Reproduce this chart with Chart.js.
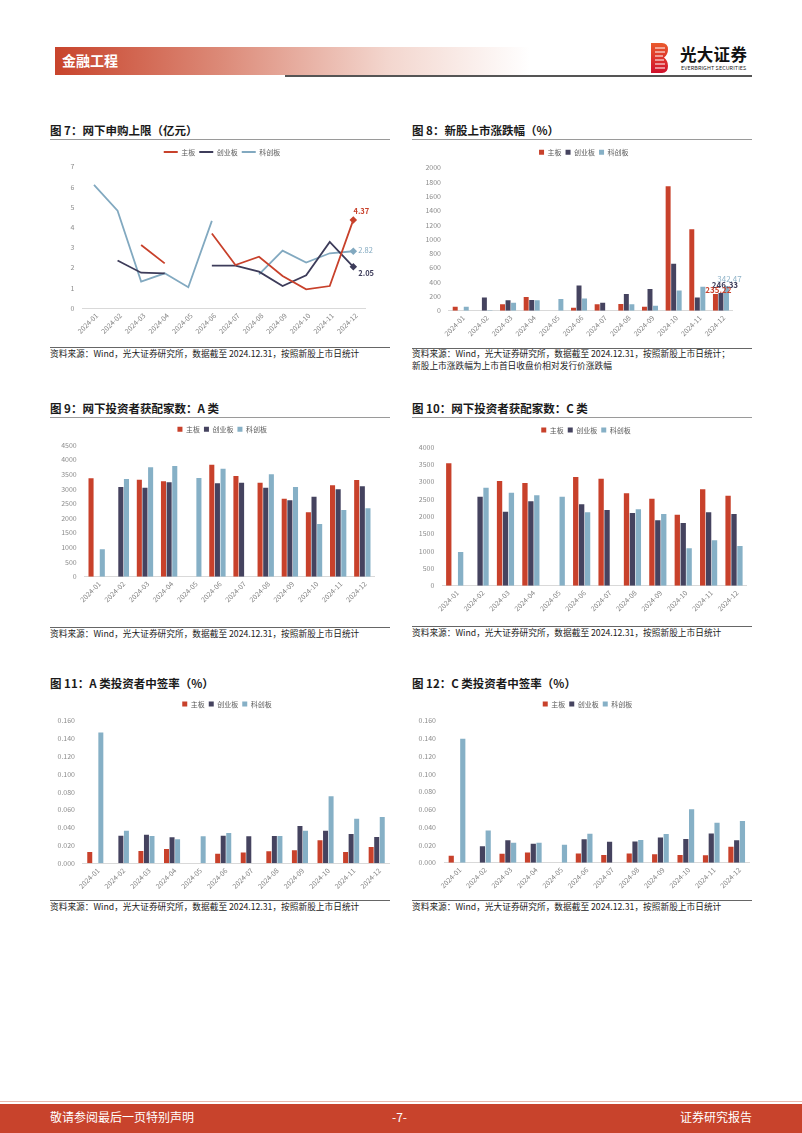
<!DOCTYPE html>
<html><head><meta charset="utf-8">
<script src="https://cdn.jsdelivr.net/npm/chart.js@4.4.0/dist/chart.umd.min.js"></script>
<style>
body{margin:0;width:802px;height:1133px;position:relative;background:#fff;font-family:"Noto Sans CJK SC","Noto Sans",sans-serif;overflow:hidden}
.abs{position:absolute}
.title{position:absolute;font-size:11.5px;font-weight:bold;color:#1a1a1a;white-space:nowrap;line-height:14px}
.src{position:absolute;font-size:8.7px;color:#222;white-space:nowrap;line-height:12px}
.hr{position:absolute;height:0}
canvas{position:absolute;display:block}
</style></head><body>

<!-- header -->
<div class="abs" style="left:55px;top:47px;width:475px;height:28px;background:linear-gradient(to right,#c8442c 0%,#dc8a78 35%,#f3d6ce 70%,#ffffff 100%)"></div>
<div class="abs" style="left:62px;top:51px;font-size:14px;font-weight:bold;color:#fff;line-height:18px">金融工程</div>
<div class="abs" style="left:285px;top:75px;width:467px;height:2px;background:#555"></div>
<svg class="abs" style="left:651px;top:43px" width="18" height="30" viewBox="0 0 18 30">
<defs><linearGradient id="lg" x1="0" y1="0" x2="0" y2="1"><stop offset="0" stop-color="#ea5a2c"/><stop offset="1" stop-color="#d0102c"/></linearGradient></defs>
<path d="M0 0 H11 Q17 0 17 6.5 Q17 11.5 13 14.5 Q17 17.5 17 23 Q17 30 11 30 H0 Z" fill="url(#lg)"/>
<g stroke="#fff" stroke-width="1"><line x1="4" y1="5" x2="14" y2="5"/><line x1="4" y1="9" x2="14" y2="9"/><line x1="4" y1="13" x2="12" y2="13"/><line x1="4" y1="17" x2="13" y2="17"/><line x1="4" y1="21" x2="14" y2="21"/><line x1="4" y1="25" x2="14" y2="25"/></g>
</svg>
<div class="abs" style="left:680px;top:44px;font-size:16.5px;font-weight:bold;color:#111;line-height:20px;letter-spacing:0.3px">光大证券</div>
<div class="abs" style="left:681px;top:65px;font-size:5.4px;color:#222;line-height:7px;letter-spacing:0.1px">EVERBRIGHT SECURITIES</div>

<!-- titles -->
<div class="title" style="left:50px;top:123px">图 7：网下申购上限（亿元）</div>
<div class="title" style="left:412px;top:123px">图 8：新股上市涨跌幅（%）</div>
<div class="hr" style="left:50px;top:139px;width:340px;border-top:1.5px solid #9a9a9a"></div>
<div class="hr" style="left:412px;top:139px;width:340px;border-top:1.5px solid #9a9a9a"></div>

<div class="title" style="left:50px;top:401px">图 9：网下投资者获配家数：A 类</div>
<div class="title" style="left:412px;top:401px">图 10：网下投资者获配家数：C 类</div>
<div class="hr" style="left:50px;top:417px;width:340px;border-top:1.5px solid #9a9a9a"></div>
<div class="hr" style="left:412px;top:417px;width:340px;border-top:1.5px solid #9a9a9a"></div>

<div class="title" style="left:50px;top:676px">图 11：A 类投资者中签率（%）</div>
<div class="title" style="left:412px;top:676px">图 12：C 类投资者中签率（%）</div>

<!-- sources -->
<div class="hr" style="left:50px;top:347px;width:340px;border-top:1px solid #666"></div>
<div class="hr" style="left:412px;top:348px;width:340px;border-top:1px solid #666"></div>
<div class="src" style="left:50px;top:348px">资料来源：Wind，光大证券研究所，数据截至 2024.12.31，按照新股上市日统计</div>
<div class="src" style="left:412px;top:348px">资料来源：Wind，光大证券研究所，数据截至 2024.12.31，按照新股上市日统计；</div>
<div class="src" style="left:412px;top:360px">新股上市涨跌幅为上市首日收盘价相对发行价涨跌幅</div>

<div class="hr" style="left:50px;top:627px;width:340px;border-top:1px solid #666"></div>
<div class="hr" style="left:412px;top:626px;width:340px;border-top:1px solid #666"></div>
<div class="src" style="left:50px;top:628px">资料来源：Wind，光大证券研究所，数据截至 2024.12.31，按照新股上市日统计</div>
<div class="src" style="left:412px;top:627px">资料来源：Wind，光大证券研究所，数据截至 2024.12.31，按照新股上市日统计</div>

<div class="hr" style="left:50px;top:900px;width:340px;border-top:1px solid #666"></div>
<div class="hr" style="left:412px;top:900px;width:340px;border-top:1px solid #666"></div>
<div class="src" style="left:50px;top:901px">资料来源：Wind，光大证券研究所，数据截至 2024.12.31，按照新股上市日统计</div>
<div class="src" style="left:412px;top:901px">资料来源：Wind，光大证券研究所，数据截至 2024.12.31，按照新股上市日统计</div>

<!-- footer -->
<div class="abs" style="left:0;top:1101px;width:802px;height:1px;background:#e9b9ad"></div>
<div class="abs" style="left:0;top:1104px;width:802px;height:29px;background:#c8432c"></div>
<div class="abs" style="left:50px;top:1109px;font-size:12px;color:#fff;line-height:16px">敬请参阅最后一页特别声明</div>
<div class="abs" style="left:392px;top:1109px;font-size:12px;color:#fff;line-height:16px">-7-</div>
<div class="abs" style="left:680px;top:1109px;font-size:12px;color:#fff;line-height:16px">证券研究报告</div>

<script>
// ---------- data ----------
const months = ['2024-01','2024-02','2024-03','2024-04','2024-05','2024-06','2024-07','2024-08','2024-09','2024-10','2024-11','2024-12'];
const seriesNames = ['主板','创业板','科创板'];

// 图7 网下申购上限（亿元）
const limitMain    = [null,null,3.13,2.22,null,3.70,2.14,2.55,1.60,0.94,1.10,4.37];
const limitChiNext = [null,2.36,1.76,1.73,null,2.11,2.11,1.81,1.10,1.63,3.28,2.05];
const limitStar    = [6.10,4.83,1.32,1.73,1.04,4.32,null,1.68,2.85,2.26,2.72,2.82];
const limitTicks   = [0,1,2,3,4,5,6,7];

// 图8 新股上市涨跌幅（%）
const riseMain    = [56,null,89,191,null,42,89,93,56,1739,1138,235.22];
const riseChiNext = [null,186,145,149,null,354,112,233,303,657,186,246.33];
const riseStar    = [56,8,112,145,163,172,null,89,70,284,336,342.47];
const riseTicks   = [0,200,400,600,800,1000,1200,1400,1600,1800,2000];

// 图9 网下投资者获配家数：A类
const allocAMain    = [3361,null,3315,3258,null,3828,3440,3213,2666,2199,3122,3304];
const allocAChiNext = [null,3065,3042,3224,null,3190,3213,3042,2609,2734,2985,3087];
const allocAStar    = [934,3338,3737,3782,3372,3691,null,3497,3065,1800,2278,2335];
const allocATicks   = [0,500,1000,1500,2000,2500,3000,3500,4000,4500];

// 图10 网下投资者获配家数：C类
const allocCMain    = [3529,null,3019,2962,null,3135,3087,2663,2510,2048,2779,2596];
const allocCChiNext = [null,2567,2135,2433,null,2346,2183,2096,1885,1808,2115,2067];
const allocCStar    = [971,2827,2683,2606,2567,2115,null,2202,2067,1077,1308,1144];
const allocCTicks   = [0,500,1000,1500,2000,2500,3000,3500,4000];

// 图11 A类投资者中签率（%）
const rateAMain    = [0.0127,null,0.0138,0.0161,null,0.0108,0.0120,0.0135,0.0146,0.0258,0.0127,0.0183];
const rateAChiNext = [null,0.0310,0.0321,0.0292,null,0.0310,0.0303,0.0307,0.0419,0.0366,0.0329,0.0295];
const rateAStar    = [0.1469,0.0366,0.0307,0.0269,0.0303,0.0340,null,0.0307,0.0366,0.0751,0.0501,0.0520];

// 图12 C类投资者中签率（%）
const rateCMain    = [0.0079,null,0.0101,0.0116,null,0.0105,0.0086,0.0105,0.0094,0.0086,0.0083,0.0180];
const rateCChiNext = [null,0.0184,0.0252,0.0214,null,0.0263,0.0237,0.0240,0.0285,0.0267,0.0330,0.0252];
const rateCStar    = [0.1397,0.0364,0.0225,0.0225,0.0203,0.0327,null,0.0255,0.0323,0.0601,0.0451,0.0469];
const rateTicks    = [0,0.02,0.04,0.06,0.08,0.10,0.12,0.14,0.16];

// ---------- styling ----------
const FONT = '"Noto Sans CJK SC","Noto Sans",sans-serif';
const RED = '#c8412b', NAVY = '#45435f', BLUE = '#86b0c6';
const LRED = '#c8412b', LNAVY = '#3d3c5a', LBLUE = '#82a9c0';
Chart.defaults.font.family = FONT;
Chart.defaults.animation = false;

const legendTune = {
  id: 'legendTune',
  afterInit(chart, args, opts) {
    const lg = chart.legend;
    if (lg && opts && opts.extra) {
      const f = lg.fit.bind(lg);
      lg.fit = function(){ f(); this.height += opts.extra; };
    }
  },
  afterLayout(chart, args, opts) {
    const lg = chart.legend;
    if (lg && opts && opts.shift) { lg.left += opts.shift; lg.right += opts.shift; }
  }
};
const endLabels = {
  id: 'endLabels',
  afterDatasetsDraw(chart, args, opts) {
    if (!opts || !opts.items) return;
    const ctx = chart.ctx;
    opts.items.forEach(it => {
      const el = chart.getDatasetMeta(it.ds).data[it.idx];
      const v = chart.data.datasets[it.ds].data[it.idx];
      if (!el || v == null) return;
      ctx.save();
      ctx.font = (it.bold ? 'bold ' : '') + it.size + 'px ' + FONT;
      ctx.fillStyle = it.color; ctx.textAlign = it.align || 'center'; ctx.textBaseline = 'middle';
      ctx.fillText(v.toFixed(2), el.x + it.dx, el.y + it.dy);
      ctx.restore();
    });
  }
};

function makeChart(c) {
  const cv = document.createElement('canvas');
  cv.width = c.box.w; cv.height = c.box.h;
  cv.style.left = c.box.x + 'px'; cv.style.top = c.box.y + 'px';
  document.body.appendChild(cv);
  const fs = 7, pad = 4, itemH = 7;
  const extra = Math.max(0, (c.plot.t - c.legendCY) - (itemH / 2 + 10));
  const legendH = itemH + pad + 10 + extra;
  const padRight = c.box.x + c.box.w - c.plot.r;
  const padTop = c.plot.t - c.box.y - legendH;
  const shift = c.legendCX - (c.box.x + c.plot.r) / 2;
  const ticks = c.ticks;
  const isLine = c.type === 'line';
  const legendLabels = isLine
    ? {usePointStyle: true, pointStyle: 'line', pointStyleWidth: 14, font: {size: fs}, color: '#595959', padding: pad}
    : {boxWidth: 5, boxHeight: 5, font: {size: fs}, color: '#595959', padding: pad};
  return new Chart(cv, {
    type: c.type,
    data: { labels: months, datasets: c.datasets },
    plugins: [legendTune, endLabels],
    options: {
      responsive: false, animation: false,
      layout: { padding: { top: padTop, left: 0, right: padRight, bottom: 0 } },
      plugins: {
        legend: { position: 'top', labels: legendLabels },
        tooltip: { enabled: false },
        legendTune: { extra, shift },
        endLabels: { items: c.endLabels || [] }
      },
      datasets: { bar: { categoryPercentage: c.catPct || 0.7, barPercentage: c.barPct || 0.9 } },
      scales: {
        x: {
          offset: true,
          grid: { display: false, drawTicks: false },
          border: { display: true, color: '#d9d9d9', width: 1 },
          ticks: { autoSkip: false, maxRotation: 45, minRotation: 45, font: { size: fs }, color: '#7f7f7f', padding: 3, labelOffset: 3 },
          afterFit: s => { s.height = c.box.y + c.box.h - c.plot.b; }
        },
        y: {
          min: ticks[0], max: ticks[ticks.length - 1],
          afterBuildTicks: s => { s.ticks = ticks.map(v => ({ value: v })); },
          grid: { display: false, drawTicks: false },
          border: { display: false },
          ticks: { font: { size: fs }, color: '#8c8c8c', padding: c.plot.l - c.yLabelRight,
                   callback: v => c.fmt ? c.fmt(v) : String(v) },
          afterFit: s => { s.width = c.plot.l - c.box.x; }
        }
      }
    }
  });
}

function lineDs(label, data, color) {
  return { label, data, borderColor: color, backgroundColor: color, borderWidth: 1.8, spanGaps: false,
           tension: 0, pointStyle: 'rectRot', pointBorderWidth: 1.8, pointBorderColor: color,
           pointRadius: ctx => ctx.dataIndex === months.length - 1 ? 2.5 : 0 };
}
function barDs(label, data, color) {
  return { label, data, backgroundColor: color, borderWidth: 0 };
}

// 图7
makeChart({
  type: 'line', box: {x: 50, y: 140, w: 340, h: 200},
  plot: {l: 82.2, t: 166.7, r: 365.1, b: 308.3}, legendCX: 222, legendCY: 152, yLabelRight: 74.3,
  ticks: limitTicks,
  datasets: [lineDs(seriesNames[0], limitMain, LRED), lineDs(seriesNames[1], limitChiNext, LNAVY), lineDs(seriesNames[2], limitStar, LBLUE)],
  endLabels: [
    {ds: 0, idx: 11, dx: 8, dy: -9, color: LRED, size: 7.5, bold: true},
    {ds: 2, idx: 11, dx: 5, dy: -1, color: LBLUE, size: 7.5, align: 'left'},
    {ds: 1, idx: 11, dx: 5, dy: 6, color: LNAVY, size: 7.5, bold: true, align: 'left'}
  ]
});
// 图8
makeChart({
  type: 'bar', box: {x: 412, y: 140, w: 340, h: 200},
  plot: {l: 448.9, t: 167.7, r: 732.8, b: 310.7}, legendCX: 583.8, legendCY: 152.3, yLabelRight: 441,
  ticks: riseTicks, catPct: 0.7, barPct: 0.9,
  datasets: [barDs(seriesNames[0], riseMain, RED), barDs(seriesNames[1], riseChiNext, NAVY), barDs(seriesNames[2], riseStar, BLUE)],
  endLabels: [
    {ds: 2, idx: 11, dx: 3, dy: -7, color: '#8fb3c8', size: 8},
    {ds: 1, idx: 11, dx: 4, dy: -8, color: LNAVY, size: 8, bold: true},
    {ds: 0, idx: 11, dx: 3, dy: -4, color: RED, size: 8, bold: true}
  ]
});
// 图9
makeChart({
  type: 'bar', box: {x: 50, y: 420, w: 340, h: 200},
  plot: {l: 84.6, t: 445, r: 374.4, b: 576.7}, legendCX: 222.2, legendCY: 429.3, yLabelRight: 76.7,
  ticks: allocATicks, catPct: 0.7, barPct: 0.9,
  datasets: [barDs(seriesNames[0], allocAMain, RED), barDs(seriesNames[1], allocAChiNext, NAVY), barDs(seriesNames[2], allocAStar, BLUE)]
});
// 图10
makeChart({
  type: 'bar', box: {x: 412, y: 420, w: 340, h: 200},
  plot: {l: 442, t: 447, r: 746.7, b: 585.7}, legendCX: 586, legendCY: 430, yLabelRight: 434.3,
  ticks: allocCTicks, catPct: 0.7, barPct: 0.9,
  datasets: [barDs(seriesNames[0], allocCMain, RED), barDs(seriesNames[1], allocCChiNext, NAVY), barDs(seriesNames[2], allocCStar, BLUE)]
});
// 图11
makeChart({
  type: 'bar', box: {x: 50, y: 692, w: 345, h: 205},
  plot: {l: 82.5, t: 720.7, r: 389.5, b: 863.3}, legendCX: 227, legendCY: 704, yLabelRight: 75,
  ticks: rateTicks, catPct: 0.65, barPct: 0.9, fmt: v => v.toFixed(3),
  datasets: [barDs(seriesNames[0], rateAMain, RED), barDs(seriesNames[1], rateAChiNext, NAVY), barDs(seriesNames[2], rateAStar, BLUE)]
});
// 图12
makeChart({
  type: 'bar', box: {x: 412, y: 692, w: 345, h: 205},
  plot: {l: 444.3, t: 720.7, r: 749.4, b: 862.7}, legendCX: 587.5, legendCY: 704, yLabelRight: 436,
  ticks: rateTicks, catPct: 0.68, barPct: 0.9, fmt: v => v.toFixed(3),
  datasets: [barDs(seriesNames[0], rateCMain, RED), barDs(seriesNames[1], rateCChiNext, NAVY), barDs(seriesNames[2], rateCStar, BLUE)]
});
</script>
</body></html>
